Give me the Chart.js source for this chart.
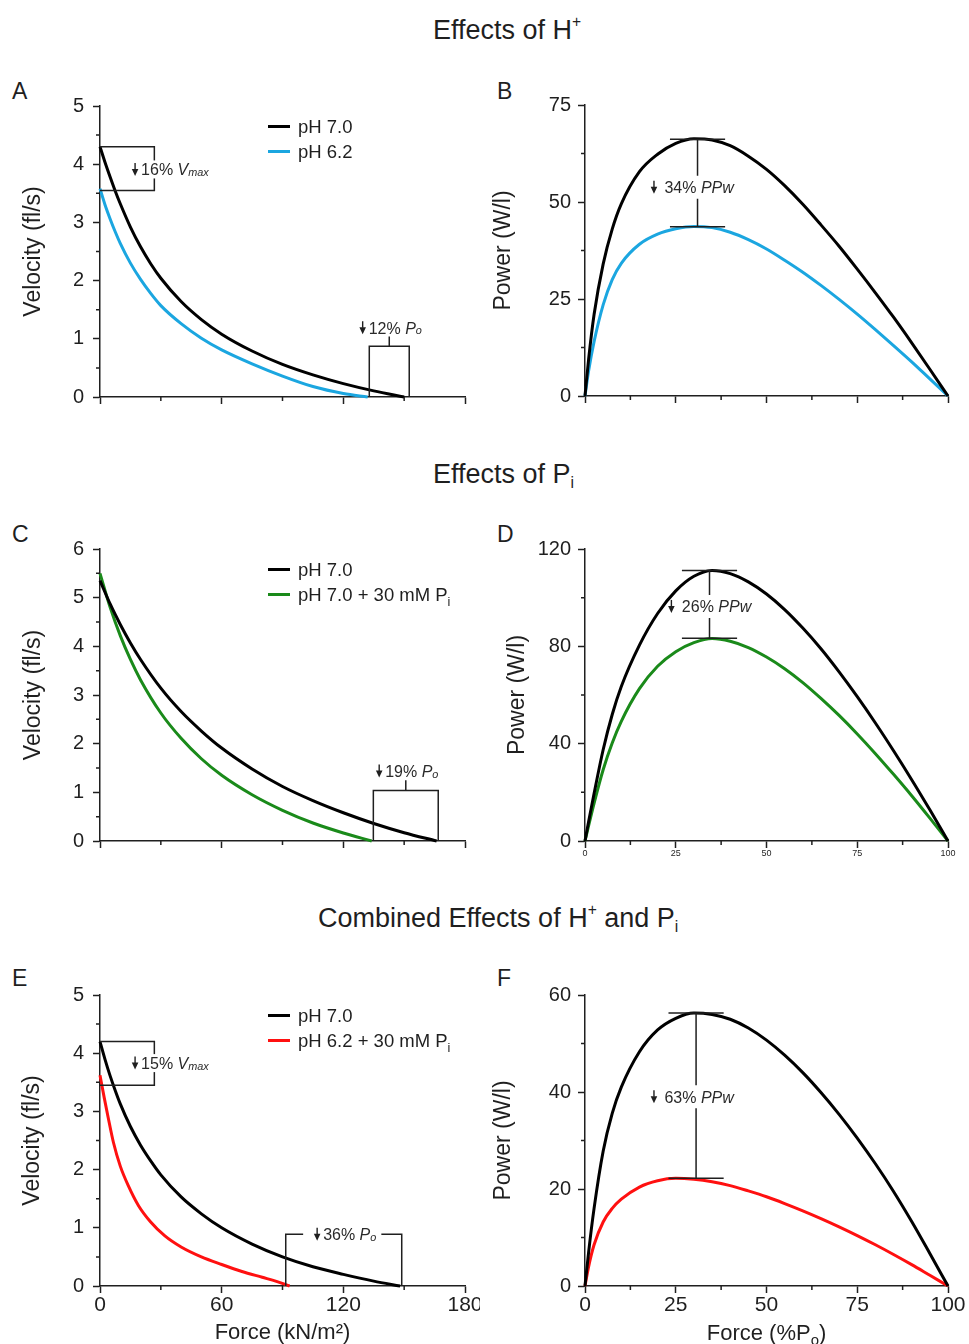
<!DOCTYPE html>
<html>
<head>
<meta charset="utf-8">
<script src="https://cdn.jsdelivr.net/npm/chart.js@4.4.1/dist/chart.umd.min.js"></script>
<style>
  body { margin: 0; width: 969px; height: 1344px; overflow: hidden; background: #fff; position: relative;
         font-family: "Liberation Sans", Arial, sans-serif; color: #1f1f1f; }
  canvas { position: absolute; }
  .hdr { position: absolute; font-size: 27px; line-height: 1; white-space: nowrap; }
  .hdr sup, .hdr sub { font-size: 58%; position: relative; vertical-align: baseline; }
  .hdr sup { top: -0.75em; }
  .hdr sub { top: 0.35em; }
  .lbl { position: absolute; font-size: 23px; line-height: 1; }
</style>
</head>
<body>
<div class="hdr" style="left:433px;top:17px">Effects of H<sup>+</sup></div>
<div class="hdr" style="left:433px;top:461px">Effects of P<sub>i</sub></div>
<div class="hdr" style="left:318px;top:905px">Combined Effects of H<sup>+</sup> and P<sub>i</sub></div>
<div class="lbl" style="left:12px;top:80px">A</div>
<div class="lbl" style="left:497px;top:80px">B</div>
<div class="lbl" style="left:12px;top:523px">C</div>
<div class="lbl" style="left:497px;top:523px">D</div>
<div class="lbl" style="left:12px;top:967px">E</div>
<div class="lbl" style="left:497px;top:967px">F</div>

<script>
// ---- data ----
// A: force (kN/m2) vs velocity (fl/s)
const forceA70 = [0, 2.5, 5, 7.5, 10, 15, 20, 25, 30, 40, 50, 60, 75, 90, 105, 120, 135, 150];
const velA70   = [4.3, 4.03, 3.78, 3.54, 3.32, 2.92, 2.58, 2.29, 2.04, 1.64, 1.33, 1.08, 0.79, 0.56, 0.38, 0.23, 0.105, 0];
const forceA62 = [0, 2.5, 5, 7.5, 10, 15, 20, 25, 30, 40, 50, 60, 75, 90, 105, 120, 132];
const velA62   = [3.58, 3.30, 3.06, 2.84, 2.64, 2.30, 2.02, 1.78, 1.57, 1.26, 1.01, 0.81, 0.57, 0.36, 0.18, 0.06, 0];

// power panels share one force grid (%Po)
const pctGrid = [0, 1, 2.5, 5, 7.5, 10, 15, 20, 25, 30, 35, 40, 45, 50, 55, 60, 65, 70, 75, 80, 85, 90, 95, 100];

// B: power (W/l)
const powB70 = [0, 9.5, 21, 34, 43, 49.5, 57.8, 62.3, 65.1, 66.3, 66.0, 64.5, 61.8, 58.4, 54.2, 49.4, 44.1, 38.6, 32.7, 26.6, 20.3, 13.7, 6.9, 0];
const powB62 = [0, 6.5, 14, 23.5, 30, 34.2, 39.1, 41.7, 43.1, 43.7, 43.4, 42.2, 40.3, 37.9, 35.0, 31.9, 28.5, 24.9, 21.1, 17.1, 13.0, 8.8, 4.4, 0];

// C
const forceC70 = [0, 5, 10, 15, 20, 30, 40, 50, 60, 75, 90, 105, 120, 135, 150, 166];
const velC70   = [5.35, 4.87, 4.45, 4.07, 3.73, 3.14, 2.66, 2.26, 1.91, 1.48, 1.12, 0.83, 0.58, 0.36, 0.17, 0];
const forceC30 = [0, 5, 10, 15, 20, 30, 40, 50, 60, 75, 90, 105, 120, 134];
const velC30   = [5.5, 4.80, 4.22, 3.73, 3.31, 2.63, 2.11, 1.69, 1.35, 0.95, 0.63, 0.37, 0.165, 0];

// D
const powD70 = [0, 8, 19.5, 37.5, 52, 63.5, 80.5, 93.5, 102.8, 108.8, 111.2, 109.9, 106.5, 101.5, 95.1, 87.5, 79.0, 69.5, 59.3, 48.5, 37.1, 25.2, 12.8, 0];
const powD30 = [0, 6.3, 15.5, 29.3, 40.3, 49.2, 62.6, 71.8, 77.8, 81.5, 83.2, 82.1, 79.5, 75.6, 70.8, 65.1, 58.6, 51.6, 44.0, 35.9, 27.4, 18.6, 9.4, 0];

// E
const forceE70 = [0, 2.5, 5, 7.5, 10, 15, 20, 25, 30, 40, 50, 60, 75, 90, 105, 120, 135, 148];
const velE70   = [4.2, 3.89, 3.61, 3.36, 3.13, 2.74, 2.42, 2.15, 1.91, 1.53, 1.24, 1.00, 0.72, 0.50, 0.33, 0.20, 0.084, 0];
const forceE62 = [0, 2, 4, 6.6, 10, 14, 19, 25, 32, 40, 50, 60, 70, 80, 87, 93.5];
const velE62   = [3.62, 3.25, 2.9, 2.47, 2.06, 1.72, 1.38, 1.10, 0.86, 0.67, 0.50, 0.37, 0.25, 0.15, 0.08, 0];

// F
const powF70 = [0, 7, 16, 27.8, 35.6, 41.0, 48.3, 52.8, 55.2, 56.3, 56.0, 55.0, 53.2, 50.7, 47.6, 44.0, 39.9, 35.4, 30.5, 25.2, 19.5, 13.3, 6.7, 0];
const powF62 = [0, 4, 8.5, 13.2, 16.0, 17.9, 20.4, 21.7, 22.2, 22.0, 21.5, 20.7, 19.6, 18.4, 17.0, 15.5, 13.9, 12.2, 10.4, 8.5, 6.5, 4.4, 2.2, 0];

// legend labels ("_" marks a subscript)
const seriesA = ['pH 7.0', 'pH 6.2'];
const seriesC = ['pH 7.0', 'pH 7.0 + 30 mM P_i'];
const seriesE = ['pH 7.0', 'pH 6.2 + 30 mM P_i'];

// ticks
const velTicks5 = [0, 1, 2, 3, 4, 5];
const velTicks6 = [0, 1, 2, 3, 4, 5, 6];
const forceTicks = [0, 60, 120, 180];
const pctTicks = [0, 25, 50, 75, 100];
const powTicksB = [0, 25, 50, 75];
const powTicksD = [0, 40, 80, 120];
const powTicksF = [0, 20, 40, 60];

const FONT = '"Liberation Sans", Arial, sans-serif';
const INK = '#1f1f1f';
const BLACK = '#000000', BLUE = '#1ba6e0', GREEN = '#1a8a1a', RED = '#ff1010';

// rich text: parts [{t, s}] s = '', 'i', 'sub', 'ism' (italic small)
function layoutRich(ctx, parts, size) {
  let w = 0;
  const segs = parts.map(p => {
    const small = p.s === 'sub' || p.s === 'ism';
    const fs = small ? size * 0.68 : size;
    const it = p.s === 'i' || p.s === 'ism';
    const font = (it ? 'italic ' : '') + fs + 'px ' + FONT;
    ctx.font = font;
    const sw = ctx.measureText(p.t).width;
    w += sw;
    return { t: p.t, font: font, w: sw, dy: p.s === 'sub' ? size * 0.25 : (p.s === 'ism' ? size * 0.06 : 0) };
  });
  return { segs: segs, w: w };
}
function drawRich(ctx, parts, x, base, size, align) {
  const L = layoutRich(ctx, parts, size);
  let cx = align === 'center' ? x - L.w / 2 : x;
  ctx.textAlign = 'left';
  ctx.textBaseline = 'alphabetic';
  L.segs.forEach(s => { ctx.font = s.font; ctx.fillText(s.t, cx, base + s.dy); cx += s.w; });
  return L.w;
}
function parseLabel(str) {
  const bits = str.split('_');
  const out = [{ t: bits[0], s: '' }];
  bits.slice(1).forEach(b => { out.push({ t: b[0], s: 'sub' }); if (b.length > 1) out.push({ t: b.slice(1), s: '' }); });
  return out;
}
function drawArrow(ctx, x, cy) {
  ctx.lineWidth = 1.4;
  ctx.beginPath(); ctx.moveTo(x, cy - 6.5); ctx.lineTo(x, cy); ctx.stroke();
  ctx.beginPath(); ctx.moveTo(x - 3.3, cy - 0.5); ctx.lineTo(x + 3.3, cy - 0.5); ctx.lineTo(x, cy + 6.5); ctx.closePath(); ctx.fill();
}
const NOTE = 16;
function noteWidth(ctx, parts) { return 6 + layoutRich(ctx, parts, NOTE).w; }
function noteText(ctx, parts, ax, cy, knockout) {
  if (knockout) {
    ctx.fillStyle = '#fff';
    ctx.fillRect(ax + 4, cy - 9, noteWidth(ctx, parts) - 2, 18);
    ctx.fillStyle = INK;
  }
  drawArrow(ctx, ax, cy);
  ctx.fillStyle = '#2a2a2a';
  drawRich(ctx, parts, ax + 6, cy + NOTE * 0.36, NOTE, 'left');
  ctx.fillStyle = INK;
}

const decor = {
  id: 'decor',
  afterDraw(chart, args, o) {
    const ctx = chart.ctx, X = chart.scales.x, Y = chart.scales.y, A = chart.chartArea;
    const px = v => X.getPixelForValue(v), py = v => Y.getPixelForValue(v);
    ctx.save();
    ctx.strokeStyle = INK; ctx.fillStyle = INK; ctx.lineWidth = 1.5;
    // minor ticks between the major ones
    const mids = t => t.slice(1).map((v, i) => (t[i].value + v.value) / 2);
    ctx.beginPath();
    mids(X.ticks).forEach(v => { ctx.moveTo(px(v), A.bottom); ctx.lineTo(px(v), A.bottom + 4); });
    mids(Y.ticks).forEach(v => { ctx.moveTo(A.left, py(v)); ctx.lineTo(A.left - 4, py(v)); });
    ctx.stroke();

    // legend
    if (o.legend) {
      chart.data.datasets.forEach((d, i) => {
        const y = A.top + 20.5 + i * 25;
        ctx.strokeStyle = d.borderColor; ctx.lineWidth = 3;
        ctx.beginPath(); ctx.moveTo(A.left + 168, y); ctx.lineTo(A.left + 190, y); ctx.stroke();
        ctx.fillStyle = INK;
        drawRich(ctx, parseLabel(d.label), A.left + 198, y + 18.5 * 0.36, 18.5, 'left');
      });
    }

    // annotations
    ctx.strokeStyle = INK; ctx.fillStyle = INK;
    (o.notes || []).forEach(n => {
      ctx.lineWidth = 1.5;
      if (n.kind === 'vmax') {
        ctx.beginPath();
        ctx.moveTo(px(0), py(n.top)); ctx.lineTo(px(n.right), py(n.top));
        ctx.lineTo(px(n.right), py(n.bottom)); ctx.lineTo(px(0), py(n.bottom));
        ctx.stroke();
        noteText(ctx, n.parts, px(n.ax), py(n.ay), true);
      } else if (n.kind === 'po') {
        const cx = (px(n.left) + px(n.right)) / 2;
        ctx.beginPath();
        ctx.moveTo(px(n.left), py(0)); ctx.lineTo(px(n.left), py(n.top));
        ctx.lineTo(px(n.right), py(n.top)); ctx.lineTo(px(n.right), py(0));
        ctx.moveTo(cx, py(n.top)); ctx.lineTo(cx, py(n.stem));
        ctx.stroke();
        const w = noteWidth(ctx, n.parts);
        noteText(ctx, n.parts, cx - w / 2 + 3, py(n.ty));
      } else if (n.kind === 'po2') {
        const cx = (px(n.left) + px(n.right)) / 2, yy = py(n.top);
        const w = noteWidth(ctx, n.parts);
        const s = cx - w / 2, e = cx + w / 2;
        ctx.beginPath();
        ctx.moveTo(px(n.left), py(0)); ctx.lineTo(px(n.left), yy); ctx.lineTo(s - 11, yy);
        ctx.moveTo(e + 8, yy); ctx.lineTo(px(n.right), yy); ctx.lineTo(px(n.right), py(0));
        ctx.stroke();
        noteText(ctx, n.parts, s + 3, yy);
      } else if (n.kind === 'ppw') {
        const x = px(n.x), x1 = px(n.x - n.half), x2 = px(n.x + n.half);
        const yt = py(n.top), yb = py(n.bottom), ty = py(n.ty);
        ctx.beginPath();
        ctx.moveTo(x1, yt); ctx.lineTo(x2, yt);
        ctx.moveTo(x1, yb); ctx.lineTo(x2, yb);
        ctx.moveTo(x, yt); ctx.lineTo(x, ty - 11.5);
        ctx.moveTo(x, ty + 11.5); ctx.lineTo(x, yb);
        ctx.stroke();
        noteText(ctx, n.parts, px(n.ax), ty);
      }
    });

    if (o.xTitle) {
      ctx.fillStyle = INK;
      drawRich(ctx, o.xTitle, (A.left + A.right) / 2, chart.height - 14 + 22 * 0.36, 22, 'center');
    }
    ctx.restore();
  }
};

function makePanel(box, area, o) {
  const cv = document.createElement('canvas');
  cv.width = box.w; cv.height = box.h;
  cv.style.left = box.x + 'px'; cv.style.top = box.y + 'px';
  document.body.appendChild(cv);
  return new Chart(cv, {
    type: 'line',
    data: {
      datasets: o.series.map(s => ({
        label: s.label,
        data: s.x.map((x, i) => ({ x: x, y: s.y[i] })),
        borderColor: s.color, borderWidth: 3, pointRadius: 0, fill: false,
        cubicInterpolationMode: 'monotone', clip: 10
      }))
    },
    options: {
      responsive: false, animation: false, events: [],
      layout: { padding: { left: 0, top: area.t - box.y, right: box.x + box.w - area.r, bottom: 0 } },
      plugins: { legend: { display: false }, tooltip: { enabled: false }, decor: o.decor },
      scales: {
        x: {
          type: 'linear', min: o.xTicks[0], max: o.xTicks[o.xTicks.length - 1],
          afterBuildTicks: s => { s.ticks = o.xTicks.map(v => ({ value: v })); },
          afterFit: s => { s.height = box.y + box.h - area.b; s.paddingLeft = 0; s.paddingRight = 0; },
          ticks: { display: !!o.xLabelSize, font: { family: FONT, size: o.xLabelSize || 10 }, color: INK,
                   padding: 0, maxRotation: 0, autoSkip: false },
          grid: { drawOnChartArea: false, tickLength: 7, tickColor: INK, tickWidth: 1.5 },
          border: { color: INK, width: 1.5 },
          title: { display: !!o.xTitle, text: o.xTitle || '', font: { family: FONT, size: 22 }, color: INK, padding: 0 }
        },
        y: {
          type: 'linear', min: o.yTicks[0], max: o.yTicks[o.yTicks.length - 1],
          afterBuildTicks: s => { s.ticks = o.yTicks.map(v => ({ value: v })); },
          afterFit: s => { s.width = area.l - box.x; s.paddingTop = 0; s.paddingBottom = 0; },
          ticks: { font: { family: FONT, size: 20 }, color: INK, padding: o.yPad, autoSkip: false },
          grid: { drawOnChartArea: false, tickLength: 7, tickColor: INK, tickWidth: 1.5 },
          border: { color: INK, width: 1.5 },
          title: { display: true, text: o.yTitle, font: { family: FONT, size: 23 }, color: INK,
                   padding: { top: o.yTitlePad, bottom: 0 } }
        }
      }
    },
    plugins: [decor]
  });
}

const vmaxText = p => [{ t: p + ' ' }, { t: 'V', s: 'i' }, { t: 'max', s: 'ism' }];
const poText = p => [{ t: p + ' ' }, { t: 'P', s: 'i' }, { t: 'o', s: 'ism' }];
const ppwText = p => [{ t: ' ' + p + ' ' }, { t: 'PPw', s: 'i' }];

// A
makePanel({ x: 0, y: 80, w: 480, h: 345 }, { l: 100, r: 465, t: 106, b: 397 }, {
  series: [{ label: seriesA[0], x: forceA70, y: velA70, color: BLACK },
           { label: seriesA[1], x: forceA62, y: velA62, color: BLUE }],
  xTicks: forceTicks, yTicks: velTicks5, yTitle: 'Velocity (fl/s)', yTitlePad: 20, yPad: 9,
  decor: { legend: true, notes: [
    { kind: 'vmax', top: 4.30, bottom: 3.55, right: 26.8, ax: 17.3, ay: 3.91, parts: vmaxText('16%') },
    { kind: 'po', left: 132.8, right: 152.5, top: 0.87, stem: 1.04, ty: 1.19, parts: poText('12%') }
  ] }
});
// B
makePanel({ x: 480, y: 80, w: 489, h: 345 }, { l: 585, r: 948, t: 105, b: 396 }, {
  series: [{ label: seriesA[0], x: pctGrid, y: powB70, color: BLACK },
           { label: seriesA[1], x: pctGrid, y: powB62, color: BLUE }],
  xTicks: pctTicks, yTicks: powTicksB, yTitle: 'Power (W/l)', yTitlePad: 10, yPad: 7,
  decor: { notes: [
    { kind: 'ppw', x: 31, half: 7.6, top: 66.2, bottom: 43.6, ty: 53.8, ax: 19, parts: ppwText('34%') }
  ] }
});
// C
makePanel({ x: 0, y: 525, w: 480, h: 345 }, { l: 100, r: 465, t: 549, b: 841 }, {
  series: [{ label: seriesC[0], x: forceC70, y: velC70, color: BLACK },
           { label: seriesC[1], x: forceC30, y: velC30, color: GREEN }],
  xTicks: forceTicks, yTicks: velTicks6, yTitle: 'Velocity (fl/s)', yTitlePad: 20, yPad: 9,
  decor: { legend: true, notes: [
    { kind: 'po', left: 134.8, right: 166.8, top: 1.04, stem: 1.25, ty: 1.44, parts: poText('19%') }
  ] }
});
// D
makePanel({ x: 480, y: 525, w: 489, h: 345 }, { l: 585, r: 948, t: 549, b: 841 }, {
  series: [{ label: seriesC[0], x: pctGrid, y: powD70, color: BLACK },
           { label: seriesC[1], x: pctGrid, y: powD30, color: GREEN }],
  xTicks: pctTicks, yTicks: powTicksD, xLabelSize: 9, yTitle: 'Power (W/l)', yTitlePad: 24, yPad: 7,
  decor: { notes: [
    { kind: 'ppw', x: 34.3, half: 7.6, top: 111.2, bottom: 83.3, ty: 96.4, ax: 23.8, parts: ppwText('26%') }
  ] }
});
// E
makePanel({ x: 0, y: 970, w: 480, h: 376 }, { l: 100, r: 465, t: 995, b: 1286 }, {
  series: [{ label: seriesE[0], x: forceE70, y: velE70, color: BLACK },
           { label: seriesE[1], x: forceE62, y: velE62, color: RED }],
  xTicks: forceTicks, yTicks: velTicks5, xLabelSize: 21, xTitle: 'Force (kN/m²)',
  yTitle: 'Velocity (fl/s)', yTitlePad: 19, yPad: 9,
  decor: { legend: true, notes: [
    { kind: 'vmax', top: 4.2, bottom: 3.45, right: 26.8, ax: 17.3, ay: 3.83, parts: vmaxText('15%') },
    { kind: 'po2', left: 91.6, right: 148.8, top: 0.89, parts: poText('36%') }
  ] }
});
// F
makePanel({ x: 480, y: 970, w: 489, h: 376 }, { l: 585, r: 948, t: 995, b: 1286 }, {
  series: [{ label: seriesE[0], x: pctGrid, y: powF70, color: BLACK },
           { label: seriesE[1], x: pctGrid, y: powF62, color: RED }],
  xTicks: pctTicks, yTicks: powTicksF, xLabelSize: 21, yTitle: 'Power (W/l)', yTitlePad: 10, yPad: 7,
  decor: { xTitle: [{ t: 'Force (%P' }, { t: 'o', s: 'sub' }, { t: ')' }], notes: [
    { kind: 'ppw', x: 30.6, half: 7.6, top: 56.3, bottom: 22.2, ty: 39.0, ax: 19, parts: ppwText('63%') }
  ] }
});
</script>
</body>
</html>
